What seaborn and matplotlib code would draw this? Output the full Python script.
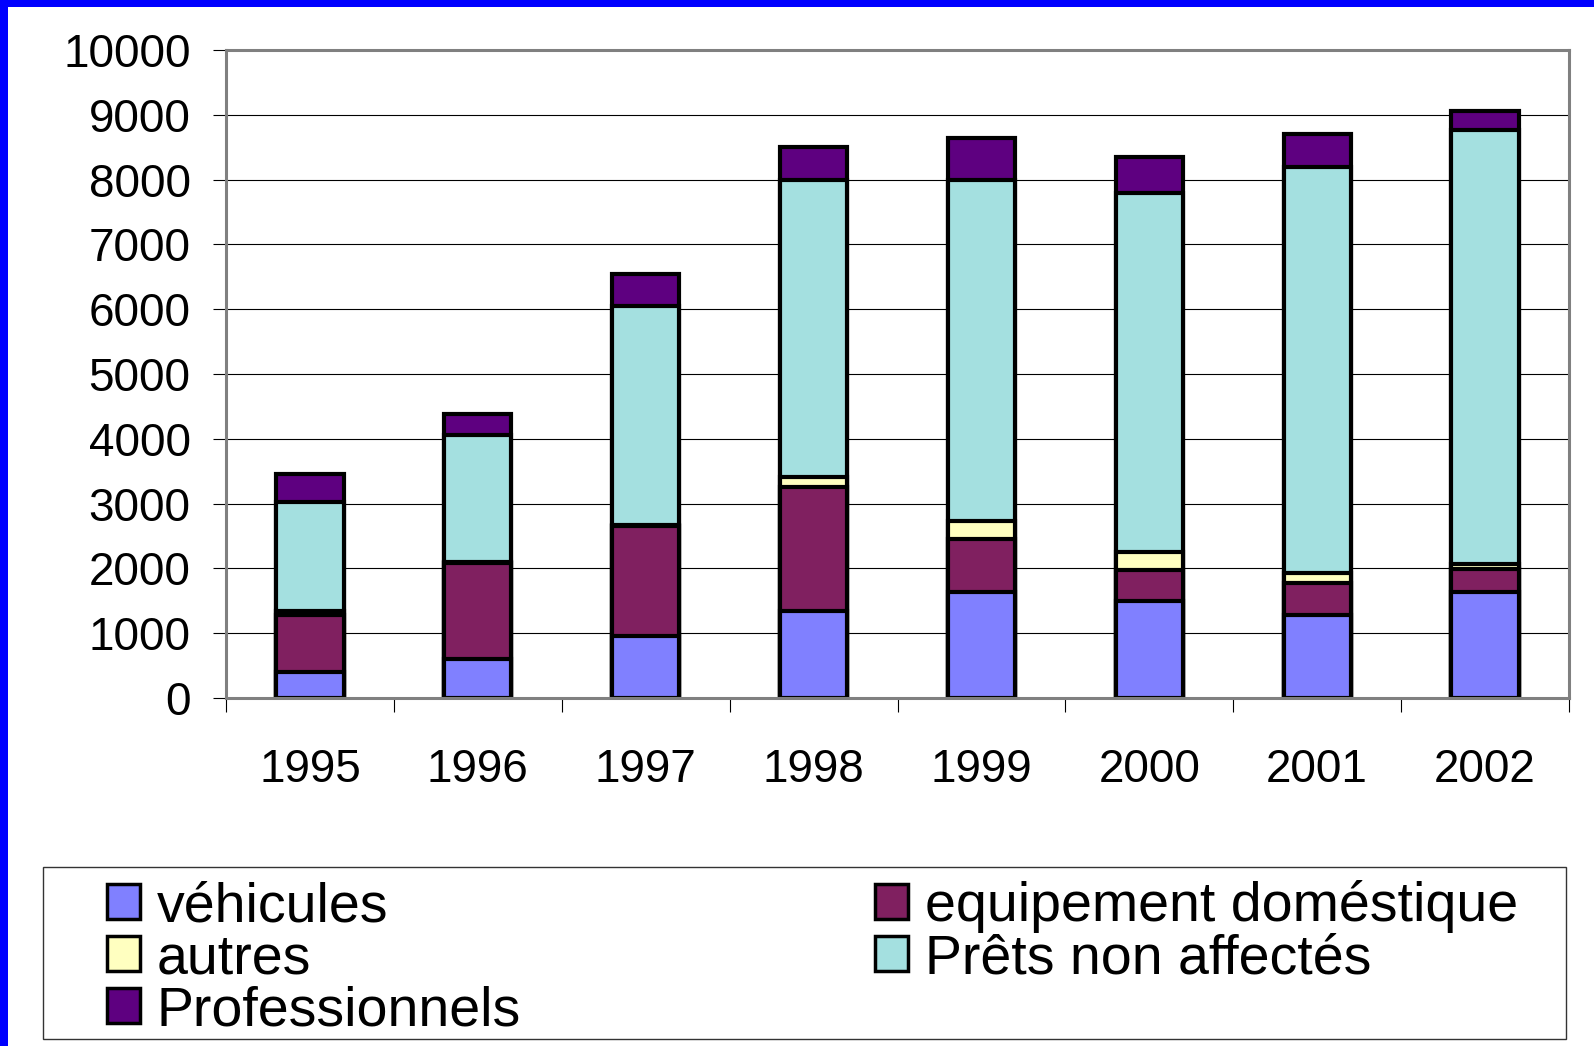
import matplotlib
matplotlib.use("Agg")
import matplotlib.pyplot as plt
from matplotlib.patches import Rectangle, Patch
from matplotlib.ticker import FixedLocator
import numpy as np
import seaborn as sns

years = ['1995', '1996', '1997', '1998', '1999', '2000', '2001', '2002']
vehicules = [400, 600, 950, 1350, 1630, 1490, 1280, 1630]
equipement = [880, 1480, 1700, 1910, 820, 490, 500, 360]
autres = [60, 20, 20, 150, 280, 270, 150, 80]
prets = [1690, 1960, 3380, 4590, 5270, 5550, 6270, 6700]
professionnels = [420, 330, 490, 500, 640, 550, 500, 290]

series_names = ['véhicules', 'equipement doméstique', 'autres',
                'Prêts non affectés', 'Professionnels']
series_values = [vehicules, equipement, autres, prets, professionnels]
series_colors = ['#8080FF', '#802060', '#FFFFC0', '#A4E0E0', '#5E0080']
y_ticks = [0, 1000, 2000, 3000, 4000, 5000, 6000, 7000, 8000, 9000, 10000]

sns.set_style("white")
plt.rcParams['font.family'] = ['Liberation Sans', 'DejaVu Sans']
plt.rcParams['text.color'] = 'black'
plt.rcParams['axes.labelcolor'] = 'black'
plt.rcParams['xtick.color'] = 'black'
plt.rcParams['ytick.color'] = 'black'
plt.rcParams['xtick.labelcolor'] = 'black'
plt.rcParams['ytick.labelcolor'] = 'black'

W, H = 1594, 1046
fig = plt.figure(figsize=(W / 100, H / 100), dpi=100)
fig.patch.set_facecolor('white')

ax = fig.add_axes([226 / W, 1 - 698 / H, (1569 - 226) / W, (698 - 50) / H])

cum = np.cumsum(np.array(series_values), axis=0)
for i in range(len(series_values) - 1, -1, -1):
    sns.barplot(x=years, y=cum[i], color=series_colors[i], edgecolor='black',
                linewidth=3.0, width=0.4, saturation=1, errorbar=None,
                ax=ax, zorder=3)

ax.set_ylim(0, 10000)
ax.set_xlim(-0.5, len(years) - 0.5)
ax.yaxis.set_major_locator(FixedLocator(y_ticks))
ax.set_yticklabels([str(t) for t in y_ticks])
ax.set_xticks(range(len(years)))
ax.set_xticklabels(years)
ax.xaxis.set_minor_locator(FixedLocator(np.arange(-0.5, len(years), 1.0)))
ax.set_xlabel('')
ax.set_ylabel('')

ax.yaxis.grid(True, color='black', linewidth=0.8, zorder=0)
ax.xaxis.grid(False)
ax.set_axisbelow(True)

for s in ax.spines.values():
    s.set_visible(True)
    s.set_color('#808080')
    s.set_linewidth(2.2)
    s.set_zorder(4)

ax.tick_params(axis='y', which='major', direction='out', length=9.5, width=0.8,
               color='black', labelcolor='black', labelsize=33, pad=16, left=True)
ax.tick_params(axis='x', which='major', length=0, labelsize=33, pad=36,
               labelcolor='black')
ax.tick_params(axis='x', which='minor', direction='out', length=10, width=0.8,
               color='black', bottom=True)

# Legend frame
fig.patches.append(Rectangle((43 / W, 1 - 1039 / H), (1566 - 43) / W, (1039 - 867) / H,
                             transform=fig.transFigure, facecolor='white',
                             edgecolor='#333333', linewidth=1.0, zorder=1))

handles = [Patch(facecolor=series_colors[i], edgecolor='black', linewidth=2.5)
           for i in [0, 2, 4, 1, 3]]
labels = [series_names[i] for i in [0, 2, 4, 1, 3]]
leg = fig.legend(handles, labels, loc='upper left',
                 bbox_to_anchor=(107 / W, 1 - 880 / H), bbox_transform=fig.transFigure,
                 ncol=2, frameon=False, fontsize=40, borderpad=0, borderaxespad=0,
                 handlelength=0.59, handleheight=0.59, handletextpad=0.3,
                 labelspacing=0.0, columnspacing=6.38)
for t in leg.get_texts():
    t.set_color('black')
leg.set_zorder(5)

# Blue border (top and left)
fig.patches.append(Rectangle((0, 1 - 7 / H), 1, 7 / H, transform=fig.transFigure,
                             facecolor='#0000FF', edgecolor='none', zorder=10))
fig.patches.append(Rectangle((0, 0), 8 / W, 1, transform=fig.transFigure,
                             facecolor='#0000FF', edgecolor='none', zorder=10))

fig.savefig('out.png', dpi=100)
